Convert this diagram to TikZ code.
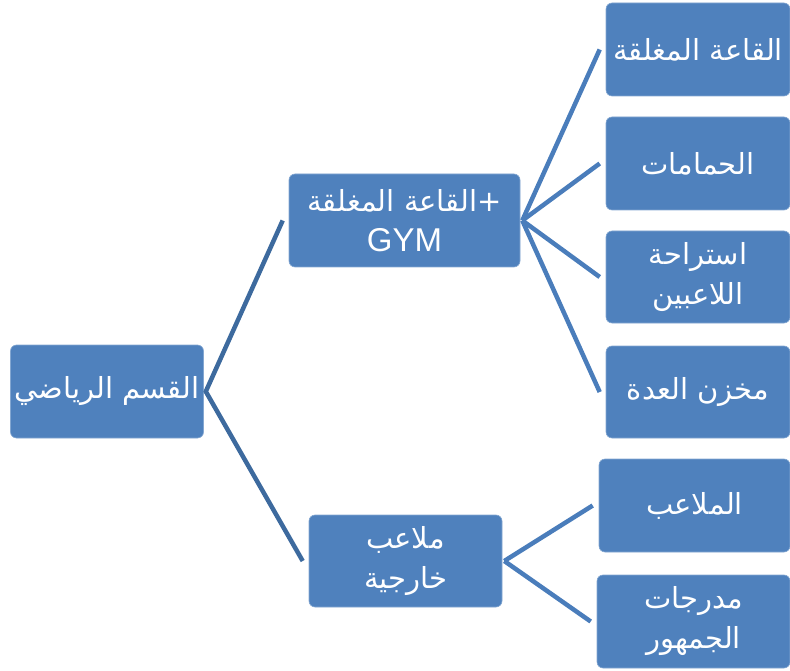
\documentclass[tikz,border=0pt]{standalone}
\usepackage{fontspec}
\setmainfont{Liberation Sans}
\newfontfamily\arabicfont[Script=Arabic]{DejaVu Sans}
\TeXXeTstate=1
\definecolor{boxblue}{HTML}{4F81BD}
\definecolor{rootline}{HTML}{3D6A9E}
\definecolor{leafline}{HTML}{4A7DBB}
\begin{document}
\begin{tikzpicture}[x=1pt,y=-1pt,
  box/.style={rectangle,rounded corners=6pt,fill=boxblue,draw=boxblue!70!white,line width=0.6pt,
    text=white,align=center,inner sep=0pt,font=\arabicfont\fontsize{29}{40}\selectfont},
  link/.style={line width=4.5pt,line cap=butt}]
  \useasboundingbox (0,0) rectangle (790,671);

  % Boxes
  \node[box,minimum width=193pt,minimum height=93pt] (sport) at (107,391.5) {\beginR القسم الرياضي\endR};
  \node[box,minimum width=231pt,minimum height=93pt] (hall) at (404.5,220.5) {\beginR +القاعة المغلقة\endR\\{\fontspec{Liberation Sans}\fontsize{33}{40}\selectfont GYM}};
  \node[box,minimum width=193pt,minimum height=92pt] (outdoor) at (405.5,561) {\beginR ملاعب\endR\\\beginR خارجية\endR};

  \node[box,minimum width=184pt,minimum height=93pt] (closed) at (698,49.5) {\beginR القاعة المغلقة\endR};
  \node[box,minimum width=184pt,minimum height=93pt] (baths) at (698,163.5) {\beginR الحمامات\endR};
  \node[box,minimum width=184pt,minimum height=92pt] (rest) at (698,277) {\beginR استراحة\endR\\\beginR اللاعبين\endR};
  \node[box,minimum width=184pt,minimum height=92pt] (store) at (698,392) {\beginR مخزن العدة\endR};
  \node[box,minimum width=191pt,minimum height=93pt] (fields) at (694.5,505.5) {\beginR الملاعب\endR};
  \node[box,minimum width=193pt,minimum height=93pt] (stands) at (693.5,621.5) {\beginR مدرجات\endR\\\beginR الجمهور\endR};

  % Lines
  \draw[link,rootline] ([xshift=-6pt]hall.west) -- ([xshift=2pt]sport.east) -- ([xshift=-6pt]outdoor.west);
  \draw[link,leafline] ([xshift=2pt]hall.east) -- ([xshift=-6pt]closed.west);
  \draw[link,leafline] ([xshift=2pt]hall.east) -- ([xshift=-6pt]baths.west);
  \draw[link,leafline] ([xshift=2pt]hall.east) -- ([xshift=-6pt]rest.west);
  \draw[link,leafline] ([xshift=2pt]hall.east) -- ([xshift=-6pt]store.west);
  \draw[link,leafline] ([xshift=2pt]outdoor.east) -- ([xshift=-6pt]fields.west);
  \draw[link,leafline] ([xshift=2pt]outdoor.east) -- ([xshift=-6pt]stands.west);
\end{tikzpicture}
\end{document}
